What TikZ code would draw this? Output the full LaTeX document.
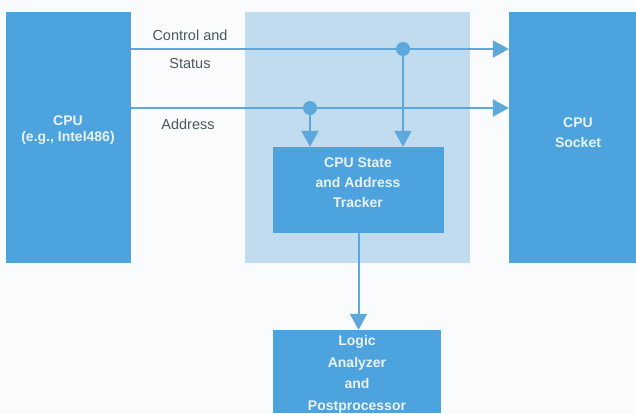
\documentclass[tikz,border=0pt]{standalone}
\usepackage{fontspec}
\setmainfont{Liberation Sans}
\usetikzlibrary{arrows.meta}
\definecolor{boxblue}{HTML}{4CA3DD}
\definecolor{lightbg}{HTML}{C2DCEF}
\definecolor{linecol}{HTML}{5BA8DC}
\definecolor{labelcol}{HTML}{4A5858}
\definecolor{boxtext}{HTML}{EAF2F8}
\definecolor{paper}{HTML}{F9FBFC}
\begin{document}
\begin{tikzpicture}[x=1pt,y=-1pt,
  blockbox/.style={fill=boxblue,draw=none,inner sep=0pt},
  boxlabel/.style={inner sep=0pt,align=center,text=boxtext},
  conn/.style={draw=linecol,line width=2pt},
  arr/.style={conn,-{Triangle[length=16pt,width=17pt]}},
  dot/.style={circle,fill=linecol,inner sep=0pt,minimum size=14pt},
  lbl/.style={text=labelcol,font=\fontsize{14.5}{20}\selectfont,inner sep=0pt}]
\useasboundingbox[fill=paper] (0,0) rectangle (636,413);
\node[fill=lightbg,minimum width=225pt,minimum height=251pt,inner sep=0pt] (bg) at (357.5,137.5) {};
\node[blockbox,minimum width=125pt,minimum height=251pt] (cpu) at (68.5,137.5) {};
\node[blockbox,minimum width=127pt,minimum height=251pt] (socket) at (572.5,137.5) {};
\node[blockbox,minimum width=171pt,minimum height=86pt] (tracker) at (358.5,190) {};
\node[blockbox,minimum width=168pt,minimum height=83pt] (logic) at (357,371.5) {};
\node[boxlabel,font=\fontsize{14}{16}\selectfont\bfseries] (cpuT) at (68,130) {CPU\\(e.g., Intel486)};
\node[boxlabel,font=\fontsize{14}{20}\selectfont\bfseries] (socketT) at (578,133) {CPU\\Socket};
\node[boxlabel,font=\fontsize{14}{20}\selectfont\bfseries] (trackerT) at (358,183) {CPU State\\and Address\\Tracker};
\node[boxlabel,font=\fontsize{14}{21.5}\selectfont\bfseries] (logicT) at (357,374.5) {Logic\\Analyzer\\and\\Postprocessor};
\coordinate (cline) at (0,49);
\coordinate (aline) at (0,108);
\node[dot] (cdot) at (403,49) {};
\node[dot] (adot) at (310,108) {};
\draw[arr] (cpu.east |- cline) -- (socket.west |- cline);
\draw[arr] (cpu.east |- aline) -- (socket.west |- aline);
\draw[arr] (cdot.center) -- (cdot |- tracker.north);
\draw[arr] (adot.center) -- (adot |- tracker.north);
\draw[arr] (tracker.south) -- (tracker.south |- logic.north);
\node[lbl] (l1) at (190,35) {Control and};
\node[lbl] (l2) at (190,64) {Status};
\node[lbl] (l3) at (188,124) {Address};
\end{tikzpicture}
\end{document}
